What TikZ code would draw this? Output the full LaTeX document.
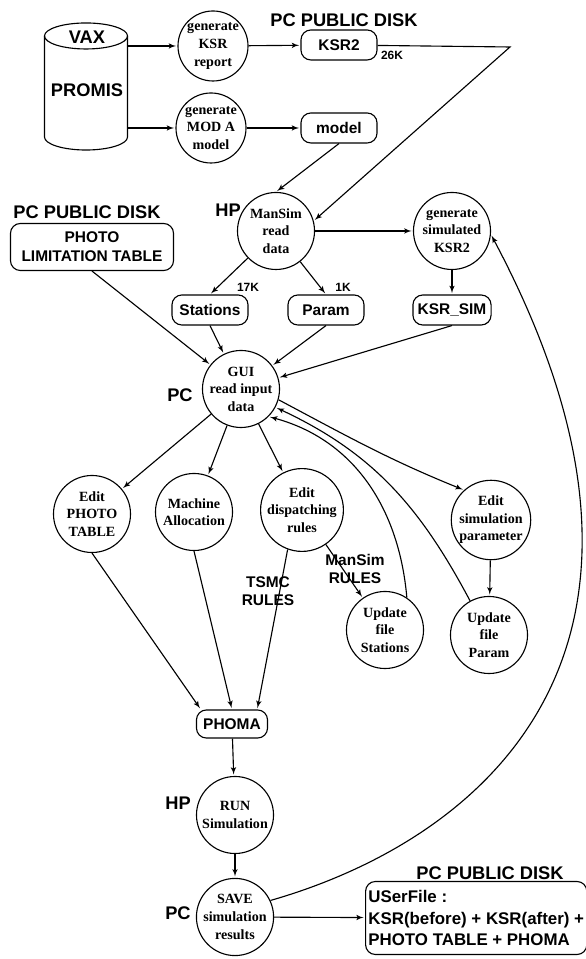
\documentclass[tikz,border=0pt]{standalone}
\usepackage{fontspec}
\setmainfont{Liberation Serif}
\setsansfont{Liberation Sans}
\usepackage{tikz}
\usetikzlibrary{arrows}
\tikzset{
  proc_c/.style = {circle, draw=black, thick, minimum size=1.925cm, inner sep=0pt,
    align=center, font=\bfseries\fontsize{10}{12.5}\selectfont},% process circle
  proc_s/.style = {proc_c, minimum size=1.75cm},% process circle, top row
  file_b/.style = {rectangle, rounded corners=7pt, draw=black, thick,
    minimum width=1.9cm, minimum height=0.75cm, align=center,
    font=\sffamily\bfseries\fontsize{11}{13.5}\selectfont},% file on disk
  site_l/.style = {font=\sffamily\bfseries\fontsize{13}{15}\selectfont},% machine name
  size_l/.style = {font=\sffamily\bfseries\fontsize{8.5}{10}\selectfont},% file size
  rule_l/.style = {align=center, font=\sffamily\bfseries\fontsize{11}{12.8}\selectfont},% rule set
  plain_l/.style = {-, shorten >=0pt},
}

\begin{document}
\begin{tikzpicture}[->,>=latex',shorten >=1pt,thick,x=0.025cm,y=0.025cm]
  \useasboundingbox (0,0) rectangle (585,959);

  %   VAX database
  \node[minimum width=2.075cm, minimum height=3.175cm, outer sep=0pt] (vax) at (86,872.5) {};
  \draw[plain_l] ([yshift=-0.325cm]vax.north) ellipse [x radius=1.0375cm, y radius=0.325cm];
  \draw[plain_l] ([yshift=-0.325cm]vax.north west) -- ([yshift=0.325cm]vax.south west)
    arc[start angle=180, end angle=360, x radius=1.0375cm, y radius=0.325cm]
    -- ([yshift=-0.325cm]vax.north east);
  \node[site_l] (vaxt) at (87,922) {VAX};
  \node[site_l] (promis) at (87,869) {PROMIS};

  \node[proc_s] (gksr) at (213,913) {generate\\KSR\\report};
  \node[proc_s] (gmod) at (211,831) {generate\\MOD A\\model};
  \node[file_b] (ksr2) at (339,914) {KSR2};
  \node[file_b] (model) at (339,831) {model};
  \coordinate (ksr2c) at (510,912);

  \node[proc_c] (mansim) at (276,728) {ManSim\\read\\data};
  \node[proc_c] (gsim) at (452,728) {generate\\simulated\\KSR2};
  \node[file_b] (stations) at (210,649) {Stations};
  \node[file_b] (param) at (326,649) {Param};
  \node[file_b] (ksrsim) at (452,649) {KSR\_SIM};
  \node[file_b, minimum width=4.075cm, minimum height=1.175cm] (photo) at (92,712) {PHOTO\\LIMITATION TABLE};

  \node[proc_c] (gui) at (241,570) {GUI\\read input\\data};
  \node[proc_c] (ephoto) at (92,445) {Edit\\PHOTO\\TABLE};
  \node[proc_c] (mach) at (194,447) {Machine\\Allocation};
  \node[proc_c] (edisp) at (302,449) {Edit\\dispatching\\rules};
  \node[proc_c] (esim) at (491,439) {Edit\\simulation\\parameter};
  \node[proc_c] (ustat) at (385,329) {Update\\file\\Stations};
  \node[proc_c] (uparam) at (489,324) {Update\\file\\Param};

  \node[file_b, minimum width=1.775cm, minimum height=0.7cm] (phoma) at (232,235) {PHOMA};
  \node[proc_c] (run) at (235,144) {RUN\\Simulation};
  \node[proc_c] (save) at (235,42) {SAVE\\simulation\\results};
  \node[file_b, anchor=west, align=left, minimum height=1.825cm, inner xsep=2pt,
    font=\sffamily\bfseries\fontsize{12}{15.4}\selectfont] (userfile) at (365,41)
    {USerFile :\\KSR(before) + KSR(after) +\\PHOTO TABLE + PHOMA};

  %   where things live
  \node[site_l] (pcd1) at (344,939) {PC PUBLIC DISK};
  \node[site_l] (pcd2) at (87,747) {PC PUBLIC DISK};
  \node[site_l] (pcd3) at (490,86) {PC PUBLIC DISK};
  \node[site_l] (hp1) at (228,749) {HP};
  \node[site_l] (pc1) at (180,564) {PC};
  \node[site_l] (hp2) at (178,156) {HP};
  \node[site_l] (pc2) at (178,46) {PC};
  \node[size_l] (k26) at (392,904) {26K};
  \node[size_l] (k17) at (248,672) {17K};
  \node[size_l] (k1) at (343,672) {1K};
  \node[rule_l] (tsmc) at (268,368) {TSMC\\RULES};
  \node[rule_l] (mrules) at (355,390) {ManSim\\RULES};

  %   data from the VAX
  \path (vax.east |- gksr) edge (gksr);
  \path (vax.east |- gmod) edge (gmod);
  \path (gksr) edge (ksr2);
  \path (gmod) edge (model);
  \draw (ksr2) -- (ksr2c) -- (mansim.15);
  \path (model.south) edge (mansim.north);
  \path (mansim) edge (gsim);
  \path (mansim) edge (stations.north);
  \path (mansim) edge (param.north);
  \path (gsim) edge (ksrsim);
  %   into the GUI
  \path (photo.south) edge (gui);
  \path (stations.south) edge (gui);
  \path (param.south) edge (gui);
  \path (ksrsim.south) edge (gui);
  %   out of the GUI
  \path (gui) edge (ephoto);
  \path (gui) edge (mach);
  \path (gui) edge (edisp);
  \path (gui.-16) edge[out=-28, in=158] (esim.132);
  \path (ustat.56) edge[out=95, in=-15] (gui.-45);
  \path (uparam.119) edge[out=118, in=-25] (gui.-28);
  \path (edisp) edge (ustat);
  \path (esim) edge (uparam);
  %   simulation run
  \path (ephoto.south) edge (phoma.155);
  \path (mach.south) edge (phoma.north);
  \path (edisp.250) edge (phoma.30);
  \path (phoma) edge (run);
  \path (run) edge (save);
  \path (save) edge (userfile);
  \path (save.25) edge[out=16, in=-62, out distance=5.5cm, in distance=11.8cm] (gsim.-5);
\end{tikzpicture}
\end{document}
